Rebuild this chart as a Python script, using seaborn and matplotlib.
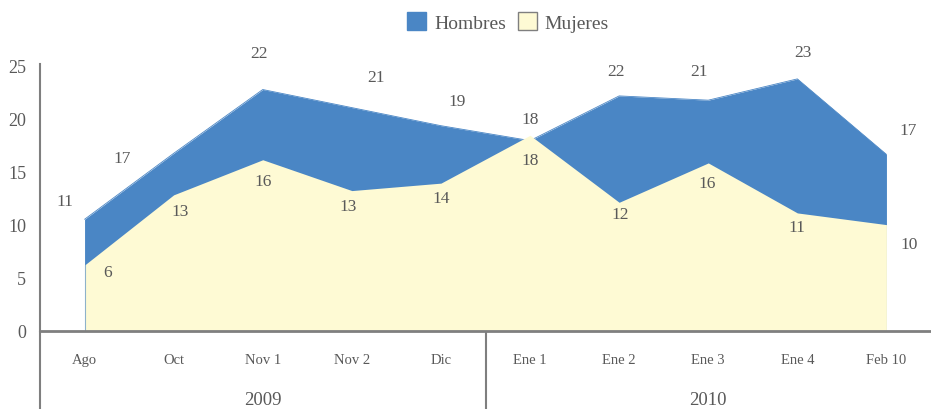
import seaborn as sns
import numpy as np
import matplotlib.pyplot as plt
import matplotlib.transforms as mtransforms
from matplotlib.patches import Patch

# Data
meses = ["Ago", "Oct", "Nov 1", "Nov 2", "Dic", "Ene 1", "Ene 2", "Ene 3", "Ene 4", "Feb 10"]
anios = ["2009", "2010"]
hombres = np.array([10.5, 16.7, 22.7, 21.0, 19.3, 17.9, 22.1, 21.7, 23.7, 16.6])
mujeres = np.array([6.2, 12.8, 16.1, 13.2, 13.9, 18.4, 12.1, 15.8, 11.1, 10.0])
hombres_lbl = [11, 17, 22, 21, 19, 18, 22, 21, 23, 17]
mujeres_lbl = [6, 13, 16, 13, 14, 18, 12, 16, 11, 10]

# label offsets in pixels (as placed in the original)
off_h = [(-20, 18), (-52, -5), (-4, 37), (24, 31), (16, 25), (0, 22), (-3, 25), (-9, 29), (6, 27), (22, 24)]
off_m = [(23, -7), (6, -16), (0, -21), (-4, -15), (0, -15), (0, -25), (1, -12), (-1, -20), (0, -14), (23, -19)]

azul = "#4A86C5"
amarillo = "#FEFAD4"
gris = "#595959"

sns.set_style("white")
plt.rcParams['font.family'] = ['Liberation Serif', 'DejaVu Serif']

fig = plt.figure(figsize=(9.31, 4.10), dpi=100)
ax = fig.add_axes([40/931, 78/410, 1 - 40/931, 267/410])

x = np.arange(len(meses))
# outlines first, fills drawn over them
sns.lineplot(x=x, y=hombres, color=azul, linewidth=0.6, ax=ax, zorder=1)
ax.fill_between(x, 0, hombres, color=azul, linewidth=0, zorder=2)
ax.fill_between(x, 0, mujeres, color=amarillo, linewidth=0, zorder=3)
ax.plot([0, 0], [0, mujeres[0]], color=azul, linewidth=0.8, alpha=0.6, zorder=4)

for i in range(len(x)):
    ax.annotate(str(hombres_lbl[i]), (x[i], hombres[i]), xytext=off_h[i],
                textcoords="offset pixels", ha="center", va="center",
                fontsize=12.5, color=gris)
    ax.annotate(str(mujeres_lbl[i]), (x[i], mujeres[i]), xytext=off_m[i],
                textcoords="offset pixels", ha="center", va="center",
                fontsize=12.5, color=gris)

ax.set_xlim(-0.5, 9.5)
ax.set_ylim(0, 25.1)
ax.set_yticks([0, 5, 10, 15, 20, 25])
ax.tick_params(axis="y", labelsize=13, colors=gris, length=0, pad=10)
ax.set_xticks(x)
ax.set_xticklabels(meses)
ax.tick_params(axis="x", labelsize=10.5, colors=gris, length=0, pad=16)

for s in ["top", "right"]:
    ax.spines[s].set_visible(False)
ax.spines["bottom"].set_color("#7F7F7F")
ax.spines["bottom"].set_linewidth(2)
ax.spines["bottom"].set_zorder(5)
ax.spines["left"].set_color("#7F7F7F")
ax.spines["left"].set_linewidth(1.5)

# multi-level category axis
trans = mtransforms.blended_transform_factory(ax.transData, ax.transAxes)
ax.plot([-0.5, -0.5], [0, -0.3], transform=trans, color="#7F7F7F", linewidth=1.5, clip_on=False)
ax.plot([4.5, 4.5], [0, -0.3], transform=trans, color="#7F7F7F", linewidth=1.5, clip_on=False)
ax.text(2.0, -0.255, anios[0], transform=trans, ha="center", va="center", fontsize=13.5, color=gris)
ax.text(7.0, -0.255, anios[1], transform=trans, ha="center", va="center", fontsize=13.5, color=gris)

handles = [Patch(facecolor=azul, edgecolor=azul), Patch(facecolor=amarillo, edgecolor="#7F7F7F")]
leg = fig.legend(handles, ["Hombres", "Mujeres"], loc="center", bbox_to_anchor=(508/931, 1 - 23/410),
                 ncol=2, frameon=False, fontsize=14, handlelength=1.0, handleheight=1.0,
                 handletextpad=0.4, columnspacing=0.6)
for t in leg.get_texts():
    t.set_color(gris)

fig.savefig("out.png", dpi=100)
